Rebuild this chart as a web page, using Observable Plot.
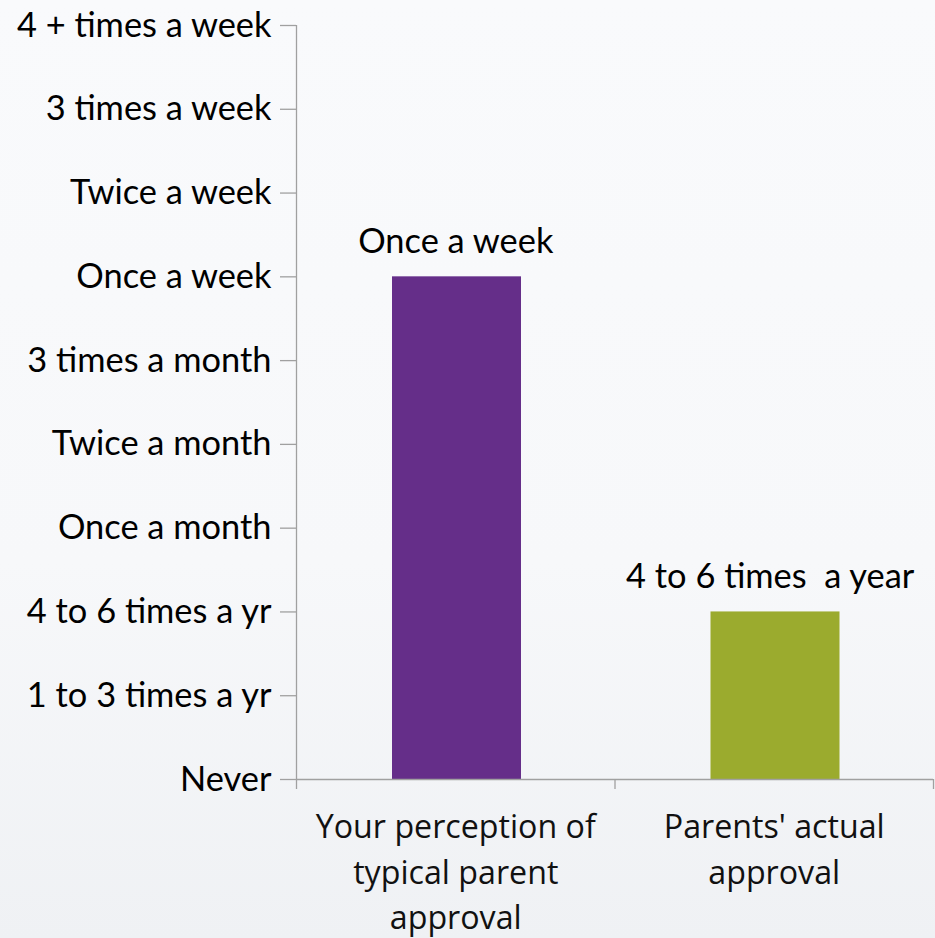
<!DOCTYPE html>
<html>
<head>
<meta charset="utf-8">
<script src="https://cdn.jsdelivr.net/npm/d3@7"></script>
<script src="https://cdn.jsdelivr.net/npm/@observablehq/plot@0.6"></script>
<style>
  html, body { margin: 0; padding: 0; }
  body {
    width: 935px; height: 938px; overflow: hidden;
    background: linear-gradient(to bottom, #f9fafc 0%, #f7f8fa 60%, #eff1f4 100%);
  }
  #chart svg { background: transparent; display: block; }
  #chart svg text { white-space: pre; }
</style>
</head>
<body>
<div id="chart"></div>
<script>
// Ordinal frequency levels (y axis, bottom to top)
const levels = [
  "Never",
  "1 to 3 times a yr",
  "4 to 6 times a yr",
  "Once a month",
  "Twice a month",
  "3 times a month",
  "Once a week",
  "Twice a week",
  "3 times a week",
  "4 + times a week"
];

// Categories (x axis)
const categories = [
  "Your perception of\ntypical parent\napproval",
  "Parents' actual\napproval"
];

// Series values (as frequency levels)
const responses = ["Once a week", "4 to 6 times a yr"];

// Labels above bars
const valueLabels = ["Once a week", "4 to 6 times  a year "];

// Bar colours
const barColors = ["#652e89", "#9bab2e"];

const data = categories.map((c, i) => ({
  cat: c,
  idx: i,
  level: levels.indexOf(responses[i]),
  label: valueLabels[i],
  color: barColors[i]
}));

const axisGray = "#a0a0a0";
const yFont = "Lato, 'Open Sans', sans-serif";
const xFont = "'Open Sans', 'Noto Sans', sans-serif";

const plot = Plot.plot({
  width: 935,
  height: 938,
  marginLeft: 296,
  marginRight: 2,
  marginTop: 25,
  marginBottom: 159,
  style: { background: "transparent", overflow: "visible" },
  x: { type: "linear", domain: [0, categories.length], axis: null },
  y: { type: "linear", domain: [0, levels.length - 1], axis: null },
  marks: [
    Plot.rectY(data, {
      x1: d => d.idx,
      x2: d => d.idx + 1,
      y1: 0,
      y2: "level",
      fill: "color",
      insetLeft: 96,
      insetRight: 93.5
    }),
    // y axis
    Plot.ruleX([0], { stroke: axisGray, strokeWidth: 1.3 }),
    Plot.axisY({
      ticks: d3.range(levels.length),
      tickFormat: d => levels[d],
      tickSize: 16,
      tickPadding: 9,
      stroke: axisGray,
      strokeWidth: 1.3,
      strokeOpacity: 1,
      fontSize: 34.4,
      fontFamily: yFont,
      fill: "#000",
      label: null
    }),
    // x axis
    Plot.ruleY([0], { stroke: axisGray, strokeWidth: 1.3 }),
    Plot.axisX({
      ticks: d3.range(categories.length + 1),
      tickFormat: () => "",
      tickSize: 10,
      stroke: axisGray,
      strokeWidth: 1.3,
      strokeOpacity: 1,
      label: null
    }),
    Plot.axisX({
      ticks: categories.map((c, i) => i + 0.5),
      tickFormat: d => categories[Math.floor(d)],
      tickSize: 0,
      tickPadding: 26,
      lineHeight: 1.42,
      fontSize: 32.2,
      fontFamily: xFont,
      fill: "#111",
      label: null
    }),
    // value labels
    Plot.text(data, {
      x: d => d.idx + 0.5,
      y: "level",
      text: "label",
      lineAnchor: "bottom",
      dy: -24,
      fontSize: 34.4,
      fontFamily: yFont,
      fill: "#000"
    })
  ]
});

document.getElementById("chart").appendChild(plot);
</script>
</body>
</html>
